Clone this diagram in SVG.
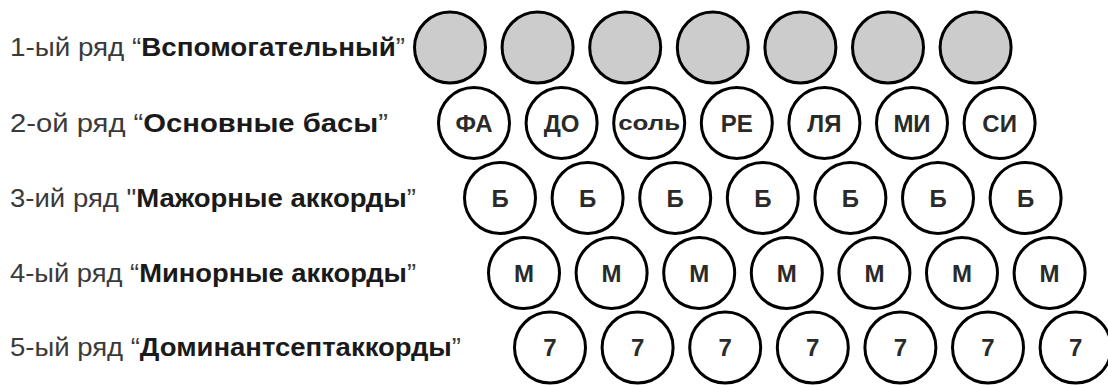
<svg xmlns="http://www.w3.org/2000/svg" width="1108" height="385" viewBox="0 0 1108 385">
<style>
.lbl{font-family:"Liberation Sans",Arial,sans-serif;font-size:25px;fill:#3a3a3a}
.lbl .b{font-weight:bold;fill:#1a1a1a}
.btn{fill:#fff;stroke:#000;stroke-width:3}
.aux{fill:#cccccc;stroke:#000;stroke-width:3}
.t{font-family:"Liberation Sans",Arial,sans-serif;font-size:24px;font-weight:bold;fill:#2a2a2a;text-anchor:middle}
</style>
<rect width="1108" height="385" fill="#fff"/>
<g id="labels">
<text class="lbl" x="10" y="56" textLength="395" lengthAdjust="spacingAndGlyphs">1-ый ряд “<tspan class="b">Вспомогательный</tspan>”</text>
<text class="lbl" x="10" y="131.5" textLength="378" lengthAdjust="spacingAndGlyphs">2-ой ряд “<tspan class="b">Основные басы</tspan>”</text>
<text class="lbl" x="10" y="206.5" textLength="406" lengthAdjust="spacingAndGlyphs">3-ий ряд "<tspan class="b">Мажорные аккорды</tspan>”</text>
<text class="lbl" x="10" y="281.5" textLength="406" lengthAdjust="spacingAndGlyphs">4-ый ряд “<tspan class="b">Минорные аккорды</tspan>”</text>
<text class="lbl" x="10" y="356" textLength="451" lengthAdjust="spacingAndGlyphs">5-ый ряд “<tspan class="b">Доминантсептаккорды</tspan>”</text>
</g>
<g id="row1">
<g id="r1b1"><circle class="aux" cx="450" cy="47.5" r="35.5"/></g>
<g id="r1b2"><circle class="aux" cx="537.6" cy="47.5" r="35.5"/></g>
<g id="r1b3"><circle class="aux" cx="625.2" cy="47.5" r="35.5"/></g>
<g id="r1b4"><circle class="aux" cx="712.8" cy="47.5" r="35.5"/></g>
<g id="r1b5"><circle class="aux" cx="800.4" cy="47.5" r="35.5"/></g>
<g id="r1b6"><circle class="aux" cx="888" cy="47.5" r="35.5"/></g>
<g id="r1b7"><circle class="aux" cx="975.6" cy="47.5" r="35.5"/></g>
</g>
<g id="row2">
<g id="r2b1"><circle class="btn" cx="474" cy="123" r="35.5"/><text class="t" x="474" y="131.5">ФА</text></g>
<g id="r2b2"><circle class="btn" cx="561.6" cy="123" r="35.5"/><text class="t" x="561.6" y="131.5">ДО</text></g>
<g id="r2b3"><circle class="btn" cx="649.2" cy="123" r="35.5"/><text class="t" x="649.2" y="130" style="font-size:20px" textLength="62" lengthAdjust="spacingAndGlyphs">соль</text></g>
<g id="r2b4"><circle class="btn" cx="736.8" cy="123" r="35.5"/><text class="t" x="736.8" y="131.5">РЕ</text></g>
<g id="r2b5"><circle class="btn" cx="824.4" cy="123" r="35.5"/><text class="t" x="824.4" y="131.5">ЛЯ</text></g>
<g id="r2b6"><circle class="btn" cx="912" cy="123" r="35.5"/><text class="t" x="912" y="131.5">МИ</text></g>
<g id="r2b7"><circle class="btn" cx="999.6" cy="123" r="35.5"/><text class="t" x="999.6" y="131.5">СИ</text></g>
</g>
<g id="row3">
<g id="r3b1"><circle class="btn" cx="500" cy="198" r="35.5"/><text class="t" x="500" y="206.5">Б</text></g>
<g id="r3b2"><circle class="btn" cx="587.6" cy="198" r="35.5"/><text class="t" x="587.6" y="206.5">Б</text></g>
<g id="r3b3"><circle class="btn" cx="675.2" cy="198" r="35.5"/><text class="t" x="675.2" y="206.5">Б</text></g>
<g id="r3b4"><circle class="btn" cx="762.8" cy="198" r="35.5"/><text class="t" x="762.8" y="206.5">Б</text></g>
<g id="r3b5"><circle class="btn" cx="850.4" cy="198" r="35.5"/><text class="t" x="850.4" y="206.5">Б</text></g>
<g id="r3b6"><circle class="btn" cx="938" cy="198" r="35.5"/><text class="t" x="938" y="206.5">Б</text></g>
<g id="r3b7"><circle class="btn" cx="1025.6" cy="198" r="35.5"/><text class="t" x="1025.6" y="206.5">Б</text></g>
</g>
<g id="row4">
<g id="r4b1"><circle class="btn" cx="524" cy="273" r="35.5"/><text class="t" x="524" y="281.5">М</text></g>
<g id="r4b2"><circle class="btn" cx="611.6" cy="273" r="35.5"/><text class="t" x="611.6" y="281.5">М</text></g>
<g id="r4b3"><circle class="btn" cx="699.2" cy="273" r="35.5"/><text class="t" x="699.2" y="281.5">М</text></g>
<g id="r4b4"><circle class="btn" cx="786.8" cy="273" r="35.5"/><text class="t" x="786.8" y="281.5">М</text></g>
<g id="r4b5"><circle class="btn" cx="874.4" cy="273" r="35.5"/><text class="t" x="874.4" y="281.5">М</text></g>
<g id="r4b6"><circle class="btn" cx="962" cy="273" r="35.5"/><text class="t" x="962" y="281.5">М</text></g>
<g id="r4b7"><circle class="btn" cx="1049.6" cy="273" r="35.5"/><text class="t" x="1049.6" y="281.5">М</text></g>
</g>
<g id="row5">
<g id="r5b1"><circle class="btn" cx="550" cy="347.5" r="35.5"/><text class="t" x="550" y="356">7</text></g>
<g id="r5b2"><circle class="btn" cx="637.6" cy="347.5" r="35.5"/><text class="t" x="637.6" y="356">7</text></g>
<g id="r5b3"><circle class="btn" cx="725.2" cy="347.5" r="35.5"/><text class="t" x="725.2" y="356">7</text></g>
<g id="r5b4"><circle class="btn" cx="812.8" cy="347.5" r="35.5"/><text class="t" x="812.8" y="356">7</text></g>
<g id="r5b5"><circle class="btn" cx="900.4" cy="347.5" r="35.5"/><text class="t" x="900.4" y="356">7</text></g>
<g id="r5b6"><circle class="btn" cx="988" cy="347.5" r="35.5"/><text class="t" x="988" y="356">7</text></g>
<g id="r5b7"><circle class="btn" cx="1075.6" cy="347.5" r="35.5"/><text class="t" x="1075.6" y="356">7</text></g>
</g>
<g id="connectors"/>
</svg>
